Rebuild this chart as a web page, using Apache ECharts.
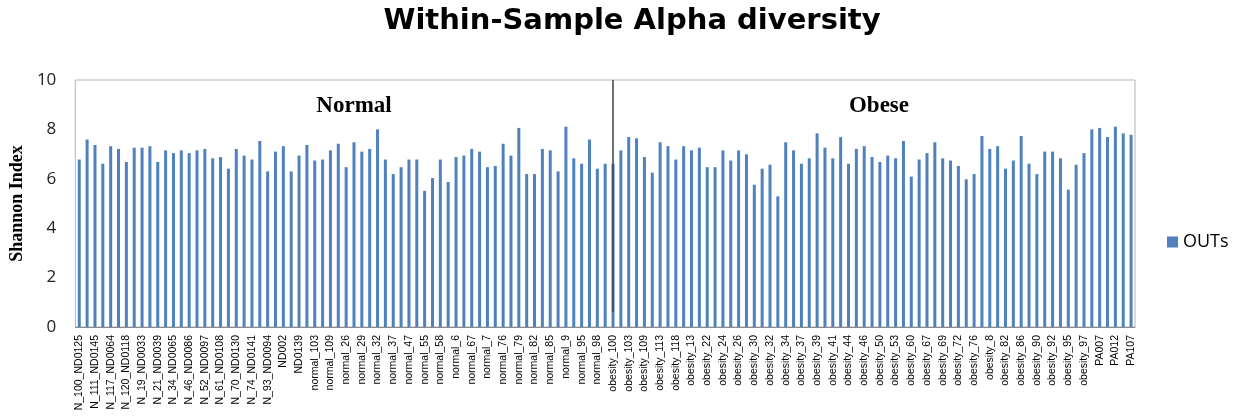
<!DOCTYPE html>
<html>
<head>
<meta charset="utf-8">
<script src="https://cdn.jsdelivr.net/npm/echarts@6/dist/echarts.min.js"></script>
<style>
html,body{margin:0;padding:0;background:#fff;}
#chart{width:1242px;height:416px;}
</style>
</head>
<body>
<div id="chart"></div>
<script>
const categories = [
  'N_100_ND0125','N_107_ND0138','N_111_ND0145','N_115_ND0060','N_117_ND0064','N_118_ND0066','N_120_ND0118','N_14_ND0021',
  'N_19_ND0033','N_20_ND0036','N_21_ND0039','N_29_ND0055','N_34_ND0065','N_41_ND0077','N_46_ND0086','N_49_ND0091',
  'N_52_ND0097','N_56_ND0102','N_61_ND0108','N_66_ND0121','N_70_ND0130','N_72_ND0136','N_74_ND0141','N_85_ND0079',
  'N_93_ND0094','N_97_ND0100','ND002','ND0104','ND0139','normal_10','normal_103','normal_105',
  'normal_109','normal_24','normal_26','normal_28','normal_29','normal_31','normal_32','normal_35',
  'normal_37','normal_44','normal_47','normal_51','normal_55','normal_57','normal_58','normal_59',
  'normal_6','normal_64','normal_67','normal_69','normal_7','normal_73','normal_76','normal_78',
  'normal_79','normal_81','normal_82','normal_84','normal_85','normal_88','normal_9','normal_91',
  'normal_95','normal_97','normal_98','normal_99','obesity_100','obesity_102','obesity_103','obesity_106',
  'obesity_109','obesity_111','obesity_113','obesity_115','obesity_118','obesity_12','obesity_13','obesity_17',
  'obesity_22','obesity_23','obesity_24','obesity_25','obesity_26','obesity_28','obesity_30','obesity_31',
  'obesity_32','obesity_33','obesity_34','obesity_36','obesity_37','obesity_38','obesity_39','obesity_40',
  'obesity_41','obesity_43','obesity_44','obesity_45','obesity_46','obesity_48','obesity_50','obesity_52',
  'obesity_53','obesity_57','obesity_60','obesity_64','obesity_67','obesity_68','obesity_69','obesity_71',
  'obesity_72','obesity_74','obesity_76','obesity_79','obesity_8','obesity_80','obesity_82','obesity_84',
  'obesity_86','obesity_88','obesity_90','obesity_91','obesity_92','obesity_94','obesity_95','obesity_96',
  'obesity_97','obesity_99','PA007','PA009','PA012','PA104','PA107'
];

const shannonValues = [
  6.78, 7.59, 7.37, 6.61, 7.32, 7.21, 6.68, 7.26, 7.26, 7.32, 6.68, 7.15, 7.04, 7.15, 7.04, 7.15,
  7.21, 6.83, 6.88, 6.41, 7.21, 6.94, 6.78, 7.53, 6.30, 7.10, 7.32, 6.30, 6.94, 7.37, 6.74, 6.78,
  7.15, 7.42, 6.47, 7.48, 7.10, 7.21, 8.00, 6.78, 6.19, 6.47, 6.78, 6.78, 5.51, 6.03, 6.78, 5.87,
  6.88, 6.94, 7.21, 7.10, 6.47, 6.52, 7.42, 6.94, 8.06, 6.19, 6.19, 7.21, 7.15, 6.30, 8.11, 6.83,
  6.61, 7.59, 6.41, 6.61,
  6.61, 7.15, 7.69, 7.64, 6.88, 6.25, 7.48, 7.32, 6.78, 7.32, 7.15, 7.26, 6.47, 6.47, 7.15, 6.74,
  7.15, 6.99, 5.76, 6.41, 6.57, 5.29, 7.48, 7.15, 6.61, 6.83, 7.84, 7.26, 6.83, 7.69, 6.61, 7.21,
  7.32, 6.88, 6.68, 6.94, 6.83, 7.53, 6.09, 6.78,
  7.04, 7.48, 6.83, 6.74, 6.52, 5.98, 6.19, 7.73, 7.21, 7.32, 6.41, 6.74, 7.73, 6.61, 6.19, 7.10,
  7.10, 6.83, 5.56, 6.57, 7.04, 8.00, 8.06, 7.69, 8.11, 7.84, 7.78
];

const yTicks = [0, 2, 4, 6, 8, 10];
const seriesName = 'OUTs';
const groupNames = ['Normal', 'Obese'];
const dividerCategory = 'obesity_100';
const dividerRange = [10, 0.6];

const chart = echarts.init(document.getElementById('chart'), null, {renderer: 'canvas'});
const option = {
  backgroundColor: '#ffffff',
  animation: false,
  title: {
    text: 'Within-Sample Alpha diversity',
    left: 627,
    top: 2,
    textAlign: 'center',
    textStyle: {fontFamily: '"DejaVu Sans"', fontWeight: 'bold', fontSize: 29, color: '#000'}
  },
  legend: {
    data: [seriesName],
    orient: 'vertical',
    left: 1162,
    top: 228,
    icon: 'rect',
    itemWidth: 11,
    itemHeight: 11,
    textStyle: {fontFamily: '"Open Sans"', fontSize: 18, color: '#000'}
  },
  grid: {
    left: 72, right: 107, top: 80, bottom: 89,
    show: true, borderColor: '#b4b4b4', borderWidth: 1, backgroundColor: 'transparent'
  },
  xAxis: {
    type: 'category',
    data: categories,
    boundaryGap: true,
    axisLine: {show: true, lineStyle: {color: '#8c8c8c', width: 1}},
    axisTick: {show: false},
    axisLabel: {
      interval: 1, rotate: 90, margin: 8,
      fontFamily: '"Liberation Sans"', fontSize: 10.5, color: '#000'
    },
    splitLine: {show: false}
  },
  yAxis: {
    type: 'value',
    min: yTicks[0], max: yTicks[yTicks.length - 1], interval: yTicks[1] - yTicks[0],
    name: 'Shannon Index',
    nameLocation: 'middle',
    nameGap: 39,
    nameTextStyle: {fontFamily: '"Liberation Serif"', fontWeight: 'bold', fontSize: 18, color: '#000'},
    axisLine: {show: false},
    axisTick: {show: false},
    splitLine: {show: false},
    axisLabel: {margin: 19, fontFamily: '"Open Sans"', fontSize: 17, color: '#222'}
  },
  graphic: [
    {type: 'text', x: 354, y: 106, silent: true,
     style: {text: groupNames[0], font: 'bold 23px "Liberation Serif"', align: 'center', verticalAlign: 'middle', fill: '#000'}},
    {type: 'text', x: 879, y: 106, silent: true,
     style: {text: groupNames[1], font: 'bold 23px "Liberation Serif"', align: 'center', verticalAlign: 'middle', fill: '#000'}}
  ],
  series: [{
    name: seriesName,
    type: 'bar',
    data: shannonValues,
    barWidth: 3,
    itemStyle: {color: '#4f81bd'},
    markLine: {
      silent: true,
      symbol: ['none', 'none'],
      label: {show: false},
      lineStyle: {color: '#404040', width: 1.5, type: 'solid'},
      data: [[{coord: [dividerCategory, dividerRange[0]]}, {coord: [dividerCategory, dividerRange[1]]}]]
    }
  }]
};
chart.setOption(option);
</script>
</body>
</html>
